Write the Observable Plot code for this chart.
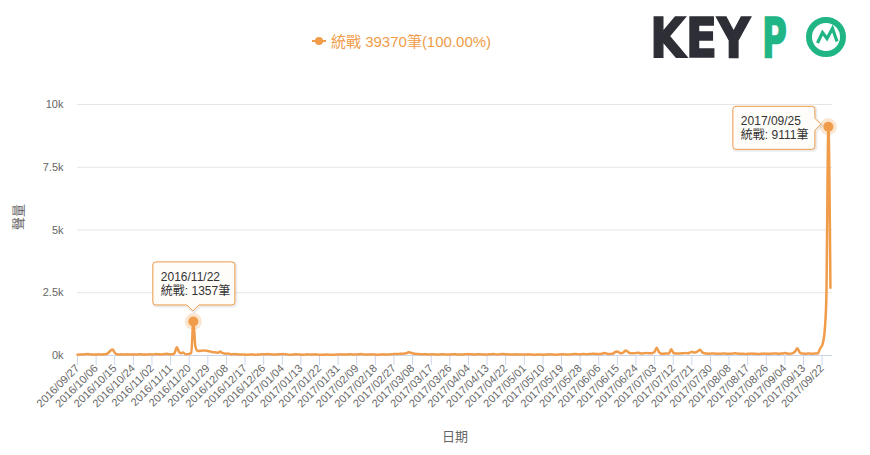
<!DOCTYPE html>
<html><head><meta charset="utf-8">
<script src="https://cdn.jsdelivr.net/npm/d3@7"></script>
<script src="https://cdn.jsdelivr.net/npm/@observablehq/plot@0.6"></script>
<style>
body{margin:0;background:#fff;font-family:"Liberation Sans","Noto Sans CJK TC",sans-serif;}
#wrap{position:relative;width:870px;height:455px;overflow:hidden;background:#fff}
#legend{position:absolute;left:312px;top:30px;font-size:15px;display:flex;align-items:center;white-space:nowrap}
#logo{position:absolute;left:0;top:0}
#chart{position:absolute;left:0;top:80px}
</style></head><body>
<div id="wrap">
  <div id="legend"></div>
  <svg id="logo" width="870" height="80">
    <g font-family="DejaVu Sans" font-weight="bold" font-size="46" stroke-width="1.3">
      <text transform="translate(650,57) scale(1,1.2)" x="0" y="0" fill="#2d2e36" stroke="#2d2e36">KEY</text>
      <text transform="translate(762,57) scale(0.74,1.2)" x="0" y="0" fill="#1fb584" stroke="#1fb584">P</text>
    </g>
    <circle cx="826" cy="37" r="17" fill="none" stroke="#1fb584" stroke-width="6"/>
    <polyline points="817.5,43 822.5,32.5 827,38.5 832.5,28.5 837,41.5" fill="none" stroke="#1fb584" stroke-width="3.2" stroke-linejoin="miter"/>
  </svg>
  <div id="chart"></div>
</div>
<script>
// ---- data ----
const seriesName = "統戰";
const seriesTotal = 39370;
const startDate = "2016-09-27";
const sep2016 = [30, 40, 35, 45];
const oct2016 = [50, 60, 45, 40, 35, 40, 45, 35, 40, 50, 60, 110, 200, 240, 110, 50, 40, 45, 35, 40, 45, 40, 35, 45, 40, 35, 50, 45, 40, 35, 45];
const nov2016 = [50, 40, 45, 60, 50, 40, 45, 50, 70, 50, 45, 50, 110, 330, 160, 90, 120, 60, 50, 70, 100, 1357, 360, 190, 180, 190, 200, 190, 180, 160];
const dec2016 = [140, 130, 120, 110, 160, 100, 80, 70, 80, 50, 45, 60, 50, 40, 35, 40, 35, 30, 35, 40, 35, 30, 35, 40, 45, 50, 45, 60, 50, 40, 35];
const jan2017 = [40, 45, 50, 60, 55, 45, 35, 30, 40, 45, 50, 40, 35, 30, 35, 45, 40, 35, 40, 45, 35, 30, 25, 30, 35, 40, 30, 25, 30, 35, 40];
const feb2017 = [45, 40, 35, 40, 45, 50, 40, 35, 45, 50, 55, 45, 40, 35, 40, 45, 40, 35, 30, 35, 40, 45, 40, 35, 45, 50, 60, 55];
const mar2017 = [60, 70, 65, 80, 90, 130, 110, 90, 70, 60, 55, 50, 45, 50, 45, 40, 45, 50, 40, 35, 40, 45, 50, 40, 35, 40, 45, 50, 45, 40, 35];
const apr2017 = [40, 45, 50, 55, 50, 45, 40, 45, 50, 45, 40, 35, 40, 45, 50, 55, 45, 40, 50, 55, 60, 50, 45, 40, 35, 40, 45, 40, 35, 40];
const may2017 = [35, 40, 45, 40, 35, 30, 35, 40, 35, 30, 35, 40, 45, 40, 35, 30, 35, 40, 45, 50, 40, 35, 45, 50, 55, 60, 50, 45, 55, 60, 50];
const jun2017 = [55, 60, 70, 65, 60, 55, 65, 80, 100, 70, 60, 65, 80, 140, 160, 110, 90, 130, 200, 150, 100, 90, 85, 100, 110, 90, 80, 90, 100, 90];
const jul2017 = [85, 100, 150, 310, 150, 80, 70, 75, 80, 90, 250, 120, 80, 75, 80, 85, 90, 100, 90, 110, 150, 120, 130, 180, 230, 130, 90, 80, 70, 75, 80];
const aug2017 = [75, 70, 65, 70, 80, 75, 70, 65, 70, 80, 85, 75, 70, 65, 70, 60, 65, 70, 75, 70, 65, 60, 65, 70, 75, 70, 65, 70, 75, 80, 75];
const sep2017 = [70, 75, 80, 100, 80, 70, 75, 100, 170, 290, 140, 80, 75, 70, 75, 80, 70, 75, 80, 90, 280, 400, 800, 2200, 9111, 2700];
const highlightDates = ["2016/11/22", "2017/09/25"];
const highlightSides = ["top", "left"];
const yTicks = [0, 2500, 5000, 7500, 10000];
const yTickLabels = ["0k", "2.5k", "5k", "7.5k", "10k"];
const xTickLabels = ["2016/09/27","2016/10/06","2016/10/15","2016/10/24","2016/11/02","2016/11/11","2016/11/20","2016/11/29","2016/12/08","2016/12/17","2016/12/26","2017/01/04","2017/01/13","2017/01/22","2017/01/31","2017/02/09","2017/02/18","2017/02/27","2017/03/08","2017/03/17","2017/03/26","2017/04/04","2017/04/13","2017/04/22","2017/05/01","2017/05/10","2017/05/19","2017/05/28","2017/06/06","2017/06/15","2017/06/24","2017/07/03","2017/07/12","2017/07/21","2017/07/30","2017/08/08","2017/08/17","2017/08/26","2017/09/04","2017/09/13","2017/09/22"];
const yTitle = "聲量";
const xTitle = "日期";

// ---- build ----
const orange = "#f09c4a";
const parseSlash = d3.utcParse("%Y/%m/%d");
const fmt = d3.utcFormat("%Y/%m/%d");
const start = d3.utcParse("%Y-%m-%d")(startDate);
const values = [].concat(sep2016, oct2016, nov2016, dec2016, jan2017, feb2017, mar2017, apr2017, may2017, jun2017, jul2017, aug2017, sep2017);
const data = values.map((v, i) => ({date: d3.utcDay.offset(start, i), value: v}));
const xTicks = xTickLabels.map(parseSlash);
const highlights = highlightDates.map((s, k) => {
  const t = +parseSlash(s);
  const d = data.find(e => +e.date === t);
  return {date: d.date, value: d.value, side: highlightSides[k]};
});

// legend
document.getElementById("legend").innerHTML =
  `<svg width="16" height="12" style="margin-right:3px"><line x1="0" x2="14" y1="6" y2="6" stroke="${orange}" stroke-width="2"/><circle cx="7" cy="6" r="4" fill="${orange}"/></svg>` +
  `<span style="color:${orange}">${seriesName} ${seriesTotal}筆(100.00%)</span>`;

function callouts(items) {
  return (index, scales) => {
    const g = d3.create("svg:g");
    const r = 3;
    for (const it of items) {
      const px = scales.x(it.date), py = scales.y(it.value);
      const w = 82, h = 43;
      let bx, by, p;
      if (it.side === "top") {
        bx = px - 40; by = py - 16 - h;
        const cx = px, b = by + h;
        p = `M${bx+r},${by}H${bx+w-r}Q${bx+w},${by} ${bx+w},${by+r}V${b-r}Q${bx+w},${b} ${bx+w-r},${b}H${cx+6}L${cx},${b+6}L${cx-6},${b}H${bx+r}Q${bx},${b} ${bx},${b-r}V${by+r}Q${bx},${by} ${bx+r},${by}Z`;
      } else {
        bx = px - 13 - w; by = py - 20;
        const cy = py - 2, rr = bx + w, b = by + h;
        p = `M${bx+r},${by}H${rr-r}Q${rr},${by} ${rr},${by+r}V${cy-6}L${rr+6},${cy}L${rr},${cy+6}V${b-r}Q${rr},${b} ${rr-r},${b}H${bx+r}Q${bx},${b} ${bx},${b-r}V${by+r}Q${bx},${by} ${bx+r},${by}Z`;
      }
      g.append("path").attr("d", p).attr("transform", "translate(1,1)")
        .attr("fill", "none").attr("stroke", "#000").attr("stroke-opacity", 0.08).attr("stroke-width", 3);
      g.append("path").attr("d", p).attr("fill", "#fffdfa").attr("fill-opacity", 0.96)
        .attr("stroke", orange).attr("stroke-width", 1);
      const t = g.append("text").attr("font-size", 12).attr("fill", "#333")
        .attr("text-anchor", "start").attr("font-family", "Liberation Sans, Noto Sans CJK TC, sans-serif");
      t.append("tspan").attr("x", bx + 8).attr("y", by + 19).text(fmt(it.date));
      t.append("tspan").attr("x", bx + 8).attr("y", by + 33).text(`${seriesName}: ${it.value}筆`);
    }
    return g.node();
  };
}

const chart = Plot.plot({
  width: 870, height: 375,
  marginTop: 24, marginBottom: 100, marginLeft: 77, marginRight: 38,
  style: {fontFamily: "Liberation Sans, Noto Sans CJK TC, sans-serif", fontSize: "11px", color: "#666", background: "transparent", overflow: "visible"},
  x: {type: "utc", domain: [start, d3.utcDay.offset(start, 365)]},
  y: {domain: [0, 10000]},
  marks: [
    Plot.gridY(yTicks, {stroke: "#e6e6e6", strokeOpacity: 1}),
    Plot.ruleY([0], {stroke: "#ccd6eb"}),
    Plot.axisY({ticks: yTicks, tickFormat: d => yTickLabels[yTicks.indexOf(d)], tickSize: 0, tickPadding: 14, fill: "#666", label: null, fontSize: 11}),
    Plot.axisX({ticks: xTicks, tickFormat: fmt, tickRotate: -45, tickSize: 10, tickPadding: 1, stroke: "#ccd6eb", strokeOpacity: 1, fill: "#666", label: null, fontSize: 11}),
    Plot.text([yTitle], {text: d => d, frameAnchor: "left", dx: -59, rotate: -90, fontSize: 13, fill: "#666"}),
    Plot.text([xTitle], {text: d => d, frameAnchor: "bottom", dy: 85, fontSize: 13, fill: "#666"}),
    Plot.line(data, {x: "date", y: "value", stroke: orange, strokeWidth: 2.5, curve: "monotone-x"}),
    Plot.dot(highlights, {x: "date", y: "value", r: 8.5, fill: orange, fillOpacity: 0.25}),
    Plot.dot(highlights, {x: "date", y: "value", r: 5, fill: orange}),
    callouts(highlights)
  ]
});
document.getElementById("chart").appendChild(chart);
</script>
</body></html>
